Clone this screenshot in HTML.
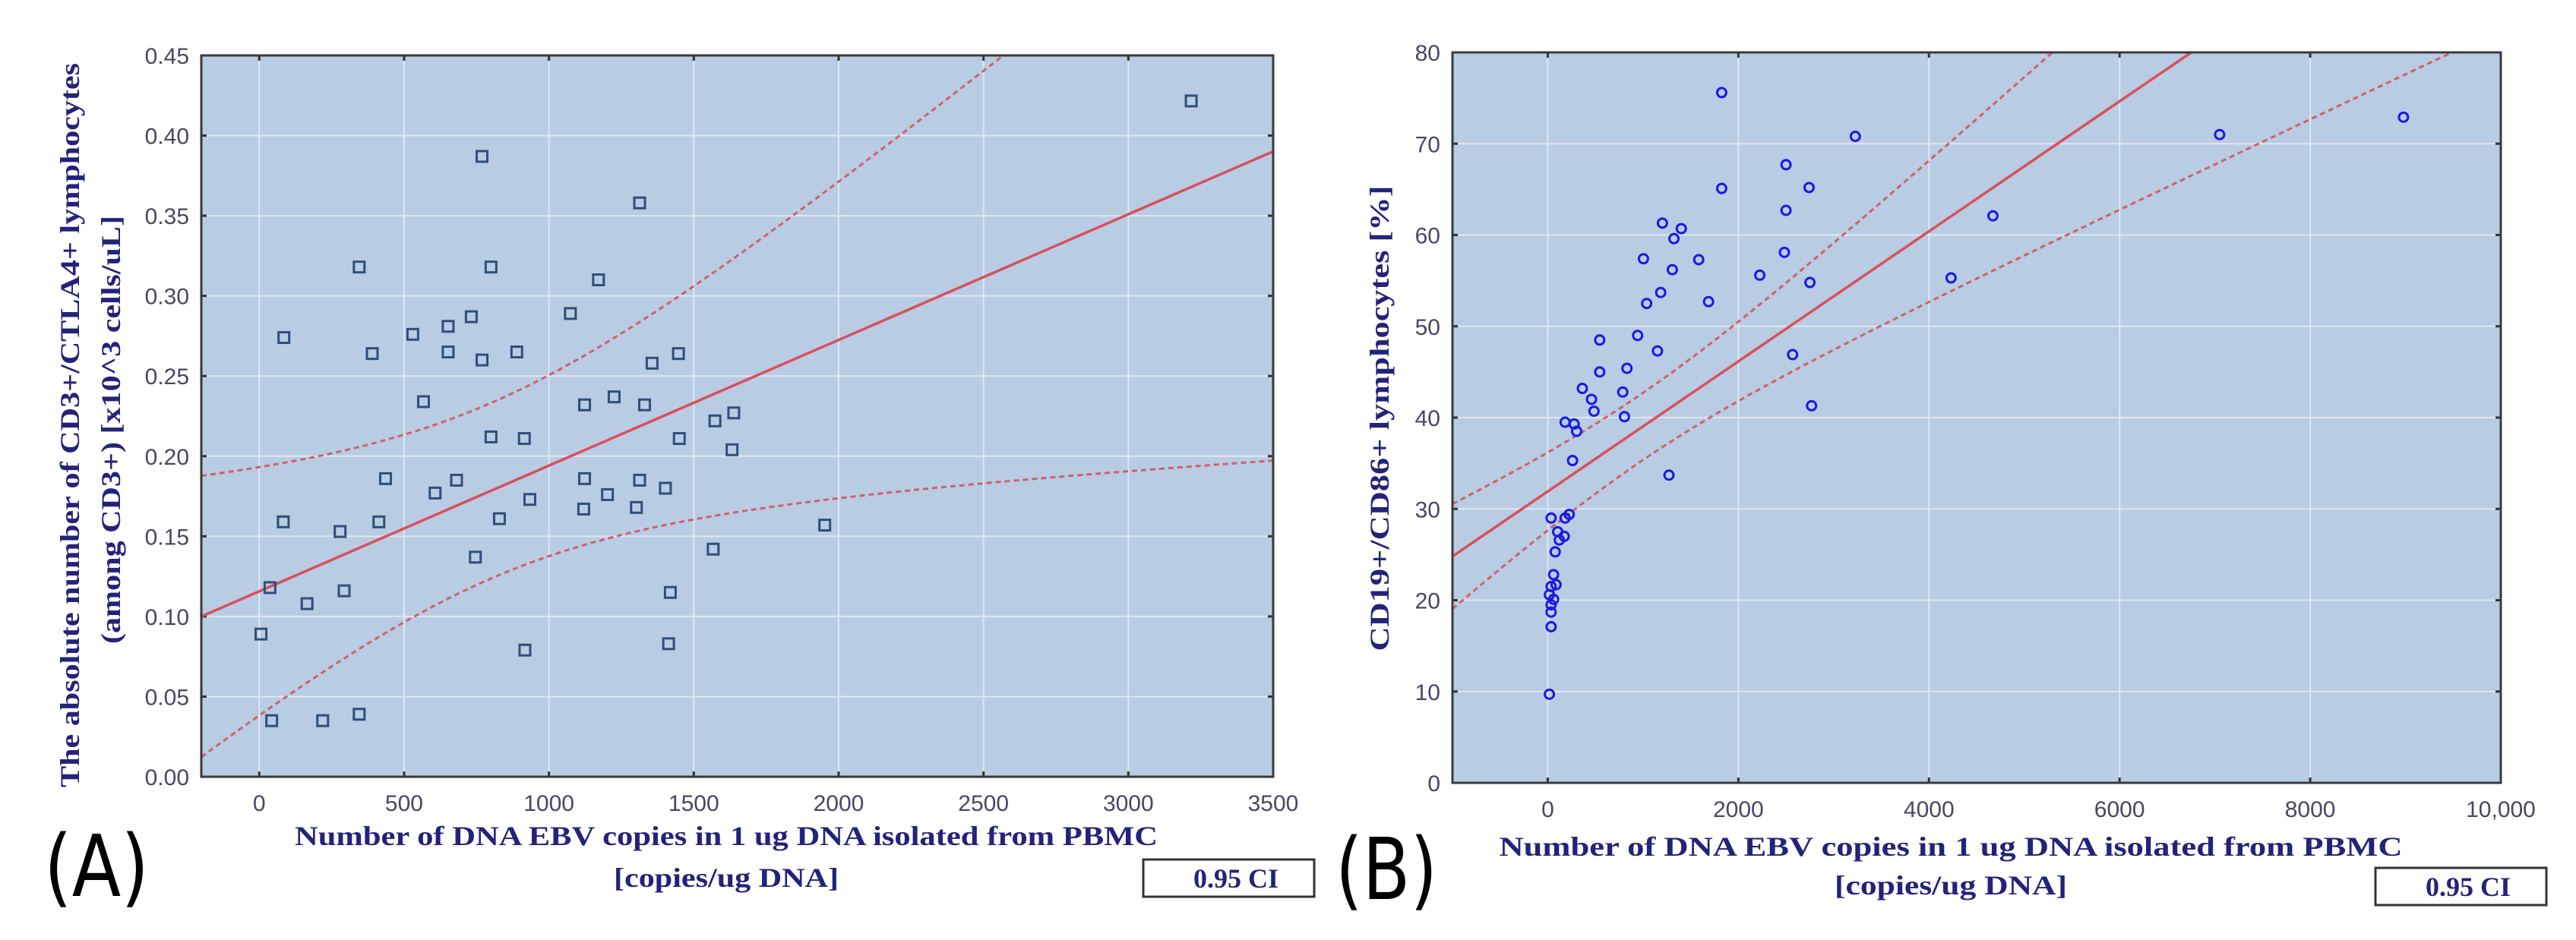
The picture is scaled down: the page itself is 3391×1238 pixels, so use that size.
<!DOCTYPE html>
<html><head><meta charset="utf-8"><style>
html,body{margin:0;padding:0;background:#fff;}
svg{display:block;}
.tk{font-family:"Liberation Sans Narrow","Liberation Sans",sans-serif;font-size:30px;fill:#474766;}
.ttl{font-family:"Liberation Serif",serif;font-weight:bold;font-size:36px;fill:#23237a;}
.lab{font-family:"DejaVu Sans","Liberation Sans",sans-serif;font-size:112px;fill:#000;}
</style></head><body>
<svg id="fig" width="3391" height="1238" viewBox="0 0 3391 1238" xmlns="http://www.w3.org/2000/svg"></svg>
<script>
// Panel A data
const aXTicks=[0,500,1000,1500,2000,2500,3000,3500];
const aYTicks=[0,0.05,0.10,0.15,0.20,0.25,0.30,0.35,0.40,0.45];
const aX=[3217,769,1313,345,800,1171,1074,732,652,85,530,390,652,889,769,1356,1447,567,1225,1123,1330,1573,1638,800,915,1450,1632,436,681,1123,1313,607,1202,1402,934,1120,1302,83,413,829,279,1952,1567,746,37,293,165,1419,6,917,1413,43,219,345];
const aY=[0.4216,0.387,0.358,0.318,0.318,0.310,0.289,0.287,0.281,0.274,0.276,0.264,0.265,0.265,0.260,0.258,0.264,0.234,0.237,0.232,0.232,0.222,0.227,0.212,0.211,0.211,0.204,0.186,0.185,0.186,0.185,0.177,0.176,0.180,0.173,0.167,0.168,0.159,0.159,0.161,0.153,0.157,0.142,0.137,0.118,0.116,0.108,0.115,0.089,0.079,0.083,0.035,0.035,0.039];
const aFit=[0.1157,0.0000784]; // intercept, slope
const aCI=[0.003,4.69e-9,800]; // c0, c1, mean x
// Panel B data
const bXTicks=[0,2000,4000,6000,8000,10000];
const bXLabels=["0","2000","4000","6000","8000","10,000"];
const bYTicks=[0,10,20,30,40,50,60,70,80];
const bX=[1825,3227,7050,8979,2500,1825,2742,2500,4671,1203,1401,1324,2483,1004,1584,1307,2225,4232,2751,1185,1038,1687,545,943,1151,2569,545,831,363,459,787,485,805,2768,182,277,303,260,1272,35,225,182,104,173,121,78,61,87,35,17,61,35,35,35,17];
const bY=[75.6,70.8,71.0,72.9,67.7,65.1,65.2,62.7,62.1,61.3,60.7,59.6,58.1,57.4,57.3,56.2,55.6,55.3,54.8,53.7,52.5,52.7,48.5,49.0,47.3,46.9,45.0,45.4,43.2,42.0,42.8,40.7,40.1,41.3,39.5,39.3,38.5,35.3,33.7,29.0,29.4,29.0,27.5,27.0,26.6,25.3,22.8,21.7,21.5,20.6,20.1,19.5,18.7,17.1,9.7];
const bFit=[31.92,0.00712];
const bCI=[13.5,5.04e-6,968];

const NS="http://www.w3.org/2000/svg";
const svg=document.getElementById('fig');
function mk(tag,attrs,parent){const e=document.createElementNS(NS,tag);for(const k in attrs)e.setAttribute(k,attrs[k]);(parent||svg).appendChild(e);return e;}

function panel(o){
  const g=mk('g',{});
  
  
  const sx=v=>o.L+(v-o.x0)/(o.x1-o.x0)*(o.R-o.L);
  const sy=v=>o.B-(v-o.y0)/(o.y1-o.y0)*(o.B-o.T);
  const bg=mk('rect',{x:o.L,y:o.T,width:o.R-o.L,height:o.B-o.T,fill:'#b8cce4'},g);
  
  
  const clip=mk('clipPath',{id:o.name+'-clip'},g);
  mk('rect',{x:o.L,y:o.T,width:o.R-o.L,height:o.B-o.T},clip);
  o.xt.forEach((v,i)=>{
    const x=sx(v);
    const gl=mk('line',{x1:x,x2:x,y1:o.T,y2:o.B,stroke:'#dfe7f1','stroke-width':2},g);
    
    
    mk('line',{x1:x,x2:x,y1:o.T,y2:o.T+7,stroke:'#333','stroke-width':3},g);
    mk('line',{x1:x,x2:x,y1:o.B,y2:o.B-7,stroke:'#333','stroke-width':3},g);
    const t=mk('text',{x:x,y:o.B+45,'text-anchor':'middle',class:'tk'},g);
    t.textContent=o.xl?o.xl[i]:String(v);
    
    
  });
  o.yt.forEach(v=>{
    const y=sy(v);
    const gl=mk('line',{x1:o.L,x2:o.R,y1:y,y2:y,stroke:'#dfe7f1','stroke-width':2},g);
    
    
    mk('line',{x1:o.L,x2:o.L+7,y1:y,y2:y,stroke:'#333','stroke-width':3},g);
    mk('line',{x1:o.R,x2:o.R-7,y1:y,y2:y,stroke:'#333','stroke-width':3},g);
    const t=mk('text',{x:o.L-16,y:y+11,'text-anchor':'end',class:'tk'},g);
    t.textContent=o.yfmt(v);
    
    
  });
  const cg=mk('g',{'clip-path':'url(#'+o.name+'-clip)'},g);
  const fit=x=>o.fit[0]+o.fit[1]*x;
  const hw=x=>Math.sqrt(o.ci[0]+o.ci[1]*(x-o.ci[2])*(x-o.ci[2]));
  let up='',lo='';
  for(let i=0;i<=200;i++){
    const x=o.x0+(o.x1-o.x0)*i/200;
    up+=(i?'L':'M')+sx(x).toFixed(1)+','+sy(fit(x)+hw(x)).toFixed(1);
    lo+=(i?'L':'M')+sx(x).toFixed(1)+','+sy(fit(x)-hw(x)).toFixed(1);
  }
  const u=mk('path',{d:up,fill:'none',stroke:'#d0606a','stroke-width':3,'stroke-dasharray':'7 5'},cg);
  
  
  const l=mk('path',{d:lo,fill:'none',stroke:'#d0606a','stroke-width':3,'stroke-dasharray':'7 5'},cg);
  
  
  const rl=mk('line',{x1:sx(o.x0),y1:sy(fit(o.x0)),x2:sx(o.x1),y2:sy(fit(o.x1)),stroke:'#d9505a','stroke-width':3.5},cg);
  
  
  o.px.forEach((v,i)=>{
    const x=sx(v),y=sy(o.py[i]);
    let m;
    if(o.marker==='square') m=mk('rect',{x:x-7,y:y-7,width:14,height:14,fill:'none',stroke:'#2f4f78','stroke-width':3},g);
    else m=mk('circle',{cx:x,cy:y,r:6,fill:'none',stroke:'#1a1ae0','stroke-width':3},g);
    
    
  });
  const fr=mk('rect',{x:o.L,y:o.T,width:o.R-o.L,height:o.B-o.T,fill:'none',stroke:'#3a3a3a','stroke-width':3},g);
  
  
}

panel({name:'panel-a',L:265,R:1676,T:73,B:1023,x0:-200,x1:3500,y0:0,y1:0.45,xt:aXTicks,yt:aYTicks,yfmt:v=>v.toFixed(2),px:aX,py:aY,fit:aFit,ci:aCI,marker:'square'});
panel({name:'panel-b',L:1912,R:3292,T:69,B:1031,x0:-1000,x1:10000,y0:0,y1:80,xt:bXTicks,xl:bXLabels,yt:bYTicks,yfmt:v=>String(v),px:bX,py:bY,fit:bFit,ci:bCI,marker:'circle'});
</script>
<script>
(function(){
const svg=document.getElementById('fig');
const NS="http://www.w3.org/2000/svg";
function txt(s,attrs,name){const e=document.createElementNS(NS,'text');for(const k in attrs)e.setAttribute(k,attrs[k]);e.textContent=s;svg.appendChild(e);


return e;}
txt('Number of DNA EBV copies in 1 ug DNA isolated from PBMC',{x:956,y:1113,'text-anchor':'middle',class:'ttl',textLength:1136,lengthAdjust:'spacingAndGlyphs'},'x-axis-title-a');
txt('[copies/ug DNA]',{x:956,y:1168,'text-anchor':'middle',class:'ttl',textLength:296,lengthAdjust:'spacingAndGlyphs'},'x-axis-title-a-units');
txt('Number of DNA EBV copies in 1 ug DNA isolated from PBMC',{x:2568,y:1127,'text-anchor':'middle',class:'ttl',textLength:1189,lengthAdjust:'spacingAndGlyphs'},'x-axis-title-b');
txt('[copies/ug DNA]',{x:2568,y:1178,'text-anchor':'middle',class:'ttl',textLength:306,lengthAdjust:'spacingAndGlyphs'},'x-axis-title-b-units');
txt('The absolute number of CD3+/CTLA4+ lymphocytes',{x:0,y:0,transform:'translate(104,560) rotate(-90)','text-anchor':'middle',class:'ttl',textLength:954,lengthAdjust:'spacingAndGlyphs'},'y-axis-title-a');
txt('(among CD3+) [x10^3 cells/uL]',{x:0,y:0,transform:'translate(158,566) rotate(-90)','text-anchor':'middle',class:'ttl',textLength:564,lengthAdjust:'spacingAndGlyphs'},'y-axis-title-a-line2');
txt('CD19+/CD86+ lymphocytes [%]',{x:0,y:0,transform:'translate(1828,551) rotate(-90)','text-anchor':'middle',class:'ttl',textLength:613,lengthAdjust:'spacingAndGlyphs'},'y-axis-title-b');
txt('(A)',{x:58,y:1180,class:'lab',textLength:138,lengthAdjust:'spacingAndGlyphs'},'panel-label-a');
txt('(B)',{x:1758,y:1184,class:'lab',textLength:134,lengthAdjust:'spacingAndGlyphs'},'panel-label-b');
[[1505,1132,'ci-legend-a'],[3127,1143,'ci-legend-b']].forEach(([x,y,n])=>{
  const r=document.createElementNS(NS,'rect');
  r.setAttribute('x',x);r.setAttribute('y',y);r.setAttribute('width',225);r.setAttribute('height',49);
  r.setAttribute('fill','#fff');r.setAttribute('stroke','#333');r.setAttribute('stroke-width',3);
  
  
  svg.appendChild(r);
  txt('0.95 CI',{x:x+122,y:y+37,'text-anchor':'middle',class:'ttl'},n);
});
})();
</script>
</body></html>
